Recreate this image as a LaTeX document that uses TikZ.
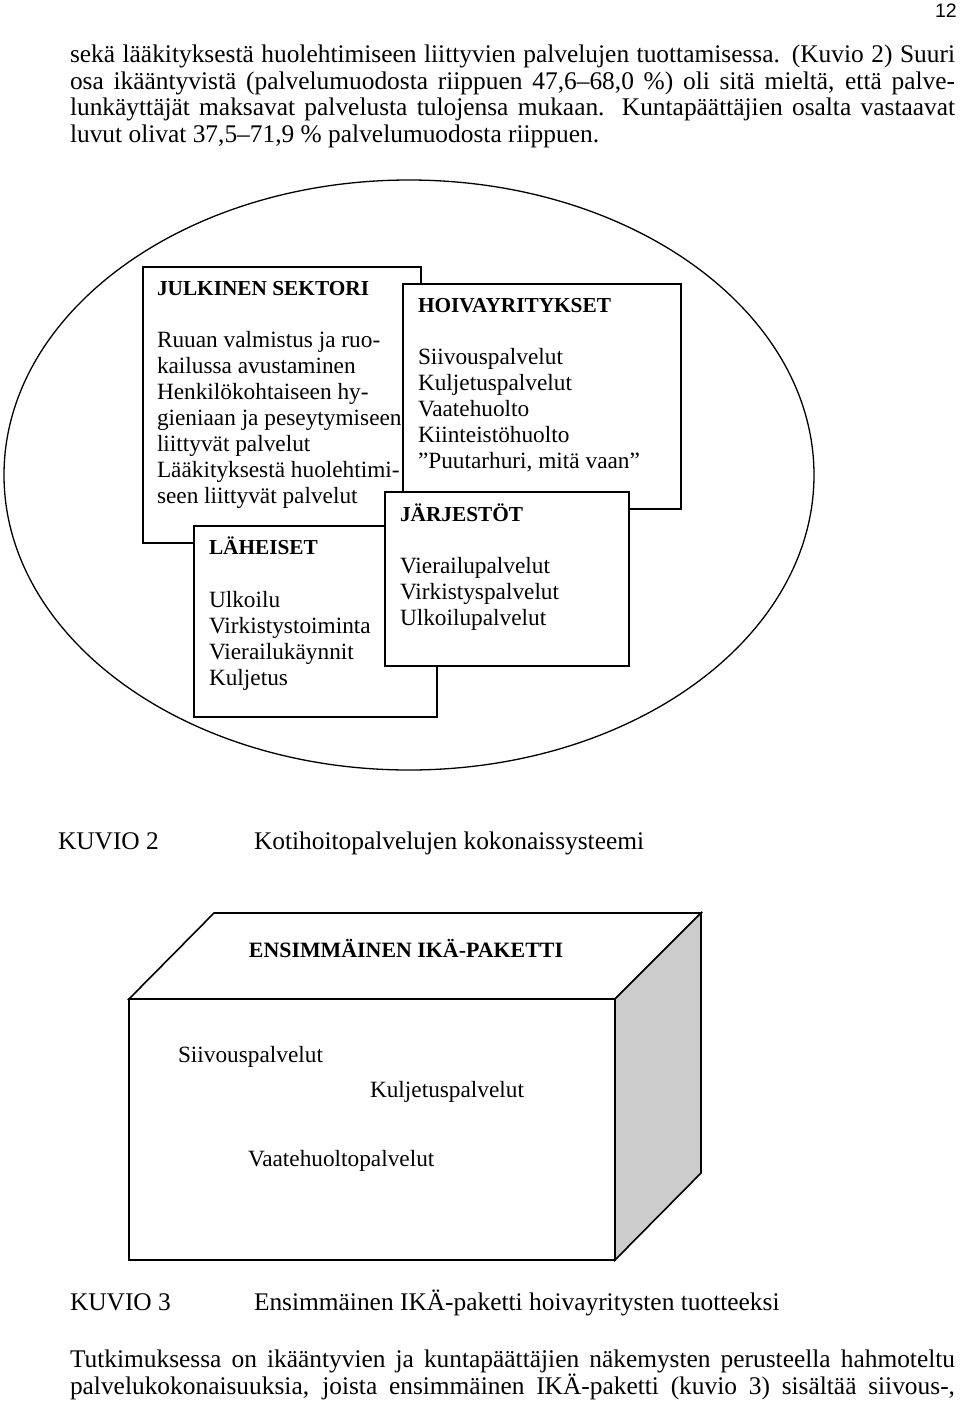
\documentclass[tikz,border=0pt]{standalone}
\usepackage{fontspec}
\setmainfont{Liberation Serif}
\newfontfamily\pagenumfont{Liberation Sans}
\usetikzlibrary{shapes.geometric}
\definecolor{sidegray}{HTML}{CCCCCC}
\tikzset{
  boxframe/.style={draw=black, line width=1.6pt, fill=white, inner sep=0pt, outer sep=0pt, anchor=north west},
  txt/.style={anchor=base west, inner sep=0pt, outer sep=0pt},
  bodyfont/.style={font=\fontsize{25.4pt}{26.6pt}\selectfont},
  boxfont/.style={font=\fontsize{23.3pt}{26.1pt}\selectfont},
  headfont/.style={font=\fontsize{21.3pt}{26pt}\selectfont\bfseries},
  cubeline/.style={draw=black, line width=1.6pt, line join=miter},
}
\begin{document}
\begin{tikzpicture}[x=1pt, y=-1pt]
\useasboundingbox (0,0) rectangle (960,1401);
\fill[white] (0,0) rectangle (960,1401);

% page number
\node[inner sep=0pt, anchor=base east, font=\pagenumfont\fontsize{19.5pt}{20pt}\selectfont] (pg) at (957,17) {12};

% top paragraph
\node[txt, bodyfont] (p1) at (70,62) {\makebox[885pt][s]{sekä lääkityksestä huolehtimiseen liittyvien palvelujen tuottamisessa. (Kuvio 2) Suuri}};
\node[txt, bodyfont] (p2) at (70,89) {\makebox[885pt][s]{osa ikääntyvistä (palvelumuodosta riippuen 47,6–68,0 \%) oli sitä mieltä, että palve-}};
\node[txt, bodyfont] (p3) at (70,115) {\makebox[885pt][s]{lunkäyttäjät maksavat palvelusta tulojensa mukaan. Kuntapäättäjien osalta vastaavat}};
\node[txt, bodyfont] (p4) at (70,142) {luvut olivat 37,5–71,9 \% palvelumuodosta riippuen.};

% ellipse
\node[ellipse, draw=black, line width=1.3pt, minimum width=810pt, minimum height=590pt, inner sep=0pt] (ell) at (409,475) {};

% JULKINEN SEKTORI
\node[boxframe, minimum width=278pt, minimum height=276pt] (julk) at (143,267) {};
\node[txt, headfont] (julkh) at (157,295) {JULKINEN SEKTORI};
\node[txt, boxfont] (julki) at (157,347) {\parbox[t]{300pt}{Ruuan valmistus ja ruo-\\kailussa avustaminen\\Henkilökohtaiseen hy-\\gieniaan ja peseytymiseen\\liittyvät palvelut\\Lääkityksestä huolehtimi-\\seen liittyvät palvelut}};

% HOIVAYRITYKSET
\node[boxframe, minimum width=278pt, minimum height=225pt] (hoiva) at (403,284) {};
\node[txt, headfont] (hoivah) at (418,312) {HOIVAYRITYKSET};
\node[txt, boxfont] (hoivai) at (418,364) {\parbox[t]{260pt}{Siivouspalvelut\\Kuljetuspalvelut\\Vaatehuolto\\Kiinteistöhuolto\\”Puutarhuri, mitä vaan”}};

% LÄHEISET
\node[boxframe, minimum width=243pt, minimum height=191pt] (lah) at (194,526) {};
\node[txt, headfont] (lahh) at (209,554) {LÄHEISET};
\node[txt, boxfont] (lahi) at (209,607) {\parbox[t]{220pt}{Ulkoilu\\Virkistystoiminta\\Vierailukäynnit\\Kuljetus}};

% JÄRJESTÖT
\node[boxframe, minimum width=244pt, minimum height=174pt] (jarj) at (385,492) {};
\node[txt, headfont] (jarjh) at (400,521) {JÄRJESTÖT};
\node[txt, boxfont] (jarji) at (400,573) {\parbox[t]{220pt}{Vierailupalvelut\\Virkistyspalvelut\\Ulkoilupalvelut}};

% caption 2
\node[txt, bodyfont] (k2) at (58,849) {KUVIO 2};
\node[txt, bodyfont] (k2t) at (254,849) {Kotihoitopalvelujen kokonaissysteemi};

% cube
\coordinate (fa) at (129,999);
\coordinate (fb) at (615,999);
\coordinate (fc) at (615,1260);
\coordinate (fd) at (129,1260);
\coordinate (ba) at (214,913);
\coordinate (bb) at (701,913);
\coordinate (bc) at (701,1173);
\draw[cubeline, fill=white] (fa) -- (fb) -- (fc) -- (fd) -- cycle;
\draw[cubeline, fill=white] (fa) -- (ba) -- (bb) -- (fb) -- cycle;
\draw[cubeline, fill=sidegray] (fb) -- (bb) -- (bc) -- (fc) -- cycle;
\node[inner sep=0pt, anchor=base, font=\fontsize{21.9pt}{24pt}\selectfont\bfseries] (cubeh) at (406,957) {ENSIMMÄINEN IKÄ-PAKETTI};
\node[txt, boxfont] (c1) at (178,1062) {Siivouspalvelut};
\node[txt, boxfont] (c2) at (370,1097) {Kuljetuspalvelut};
\node[txt, boxfont] (c3) at (248,1166) {Vaatehuoltopalvelut};

% caption 3
\node[txt, bodyfont] (k3) at (70,1310) {KUVIO 3};
\node[txt, bodyfont] (k3t) at (254,1310) {Ensimmäinen IKÄ-paketti hoivayritysten tuotteeksi};

% bottom paragraph
\node[txt, bodyfont] (q1) at (70,1367) {\makebox[885pt][s]{Tutkimuksessa on ikääntyvien ja kuntapäättäjien näkemysten perusteella hahmoteltu}};
\node[txt, bodyfont] (q2) at (70,1394) {\makebox[885pt][s]{palvelukokonaisuuksia, joista ensimmäinen IKÄ-paketti (kuvio 3) sisältää siivous-,}};
\end{tikzpicture}
\end{document}
